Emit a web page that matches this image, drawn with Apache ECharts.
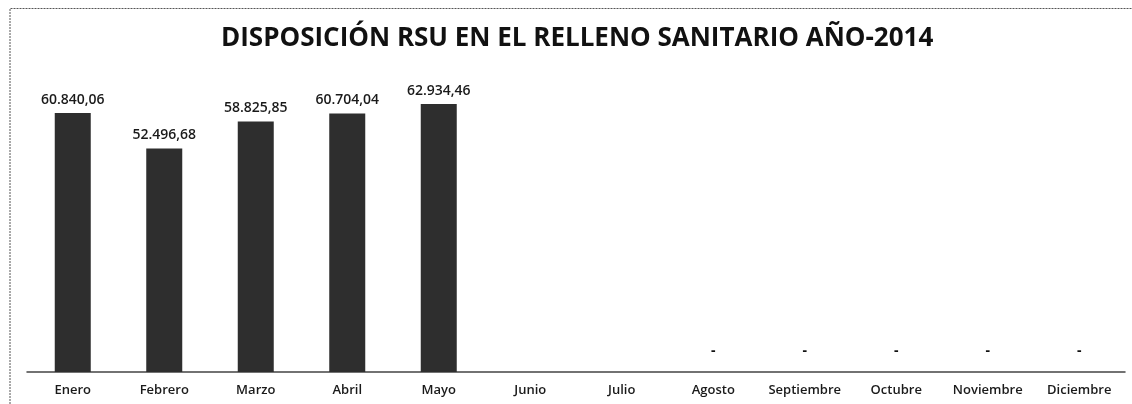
<!DOCTYPE html>
<html>
<head>
<meta charset="utf-8">
<script src="https://cdn.jsdelivr.net/npm/echarts@6/dist/echarts.min.js"></script>
<style>html,body{margin:0;padding:0;background:#fff}#c{width:1132px;height:404px}</style>
</head>
<body>
<div id="c"></div>
<script>
const titleText = 'DISPOSICIÓN RSU EN EL RELLENO SANITARIO AÑO-2014';
const categories = ['Enero','Febrero','Marzo','Abril','Mayo','Junio','Julio','Agosto','Septiembre','Octubre','Noviembre','Diciembre'];
const values = [60840.06, 52496.68, 58825.85, 60704.04, 62934.46, null, null, 0, 0, 0, 0, 0];

function fmt(v) {
  const parts = v.toFixed(2).split('.');
  const intPart = parts[0].replace(/\B(?=(\d{3})+(?!\d))/g, '.');
  return intPart + ',' + parts[1];
}

const chart = echarts.init(document.getElementById('c'));
chart.setOption({
  animation: false,
  backgroundColor: '#fff',
  title: {
    text: titleText,
    left: 216,
    top: 21,
    textStyle: { fontFamily: 'Open Sans', fontWeight: 'bold', fontSize: 26, color: '#111' }
  },
  graphic: [{
    type: 'polyline',
    shape: { points: [[10, 404], [10, 8.5], [1132, 8.5]] },
    style: { stroke: '#555', lineWidth: 1, lineDash: [2, 1], fill: null },
    silent: true
  }],
  grid: { left: 27, right: 7, top: 76, bottom: 32 },
  xAxis: {
    type: 'category',
    data: categories,
    axisLine: { lineStyle: { color: '#444', width: 1.5 } },
    axisTick: { show: false },
    axisLabel: { fontFamily: 'Open Sans', fontSize: 13, fontWeight: 600, color: '#1a1a1a', margin: 12, interval: 0 }
  },
  yAxis: {
    type: 'value',
    min: 0,
    max: 69500,
    show: false,
    splitLine: { show: false }
  },
  series: [{
    type: 'bar',
    data: values,
    barWidth: 36,
    itemStyle: { color: '#2e2e2e' },
    label: {
      show: true,
      position: 'top',
      distance: 6,
      fontFamily: 'Open Sans',
      fontSize: 14,
      fontWeight: 600,
      color: '#1a1a1a',
      formatter: p => (p.value === 0 ? '{d|-}' : fmt(p.value)),
      rich: { d: { fontFamily: 'Open Sans', fontSize: 14, fontWeight: 'bold', color: '#111', padding: [0, 0, 8, 0] } }
    }
  }]
});
</script>
</body>
</html>
